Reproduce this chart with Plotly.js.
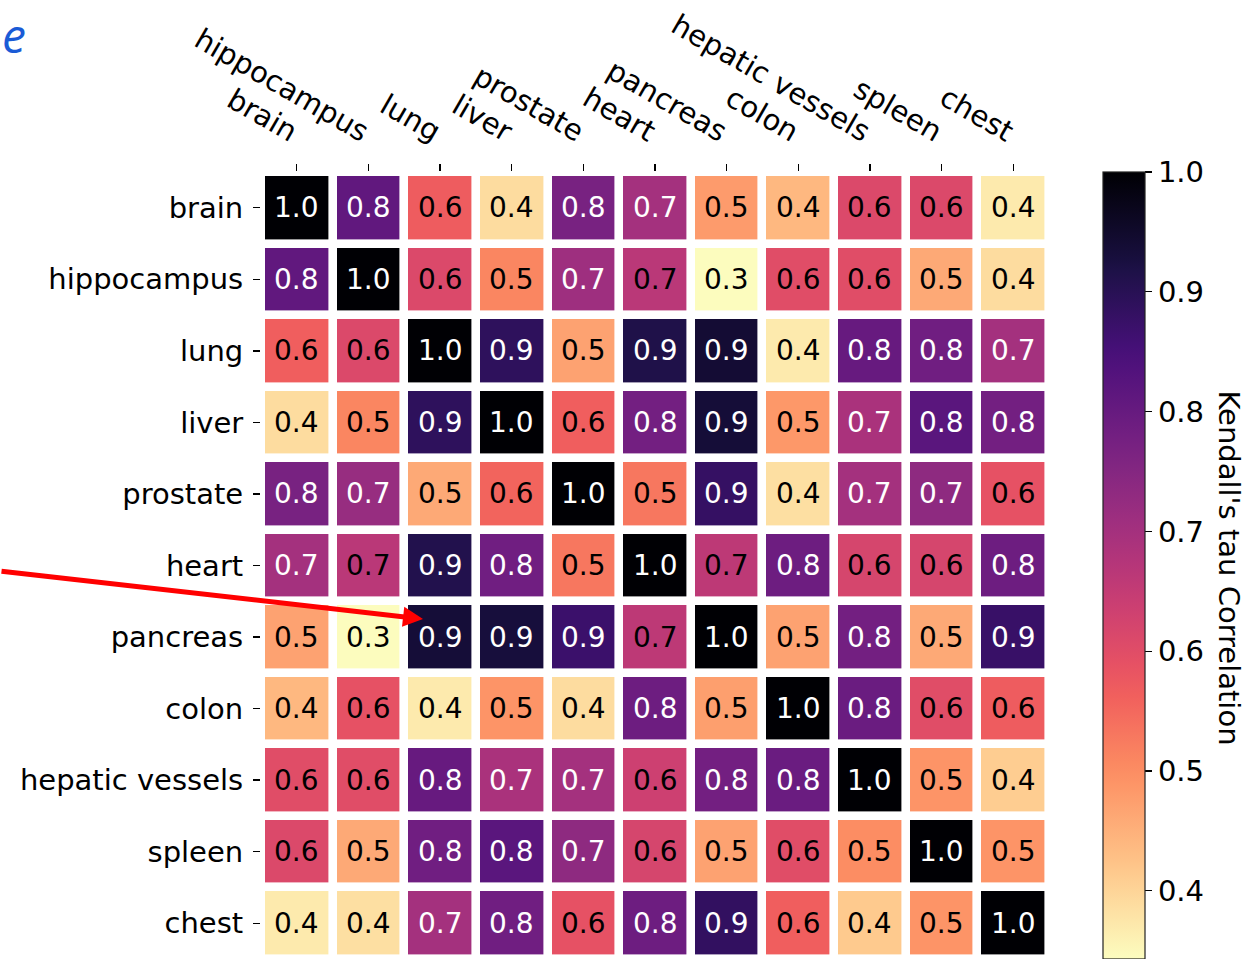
<!DOCTYPE html>
<html>
<head>
<meta charset="utf-8">
<script src="https://cdn.plot.ly/plotly-3.0.1.min.js"></script>
<style>
  html, body { margin: 0; padding: 0; background: #fff; }
  #chart { width: 1251px; height: 959px; }
</style>
</head>
<body>
<div id="chart"></div>
<script>
// Tissue categories (rows and columns of the correlation matrix)
const tissues = ['brain', 'hippocampus', 'lung', 'liver', 'prostate', 'heart',
                 'pancreas', 'colon', 'hepatic vessels', 'spleen', 'chest'];

// Kendall's tau between tissues, one array per row
const tau_brain       = [1.00, 0.81, 0.57, 0.39, 0.77, 0.70, 0.48, 0.44, 0.61, 0.61, 0.37];
const tau_hippocampus = [0.81, 1.00, 0.61, 0.51, 0.71, 0.665, 0.345, 0.60, 0.60, 0.46, 0.39];
const tau_lung        = [0.565, 0.61, 1.00, 0.89, 0.47, 0.915, 0.94, 0.37, 0.80, 0.785, 0.70];
const tau_liver       = [0.39, 0.51, 0.89, 1.00, 0.565, 0.78, 0.935, 0.485, 0.69, 0.82, 0.78];
const tau_prostate    = [0.77, 0.72, 0.46, 0.557, 1.00, 0.53, 0.88, 0.385, 0.70, 0.735, 0.59];
const tau_heart       = [0.70, 0.665, 0.91, 0.785, 0.53, 1.00, 0.66, 0.79, 0.62, 0.62, 0.79];
const tau_pancreas    = [0.47, 0.345, 0.935, 0.93, 0.87, 0.66, 1.00, 0.47, 0.78, 0.46, 0.875];
const tau_colon       = [0.44, 0.59, 0.37, 0.49, 0.39, 0.79, 0.475, 1.00, 0.795, 0.60, 0.57];
const tau_hepatic     = [0.60, 0.60, 0.80, 0.69, 0.70, 0.635, 0.78, 0.795, 1.00, 0.49, 0.41];
const tau_spleen      = [0.61, 0.46, 0.785, 0.82, 0.735, 0.62, 0.47, 0.60, 0.50, 1.00, 0.49];
const tau_chest       = [0.37, 0.385, 0.70, 0.785, 0.59, 0.79, 0.885, 0.565, 0.415, 0.49, 1.00];

const cbTicks = [0.4, 0.5, 0.6, 0.7, 0.8, 0.9, 1.0];
const zLow = 0.343, zHigh = 1.0;

const tauMatrix = [tau_brain, tau_hippocampus, tau_lung, tau_liver, tau_prostate, tau_heart,
                   tau_pancreas, tau_colon, tau_hepatic, tau_spleen, tau_chest];

// magma colormap samples (t = 0 dark .. 1 light), used reversed
const magma = [
  [0.0, '#000004'], [0.1111, '#180f3e'], [0.125, '#1d1147'], [0.2222, '#451077'],
  [0.25, '#51127c'], [0.3333, '#721f81'], [0.375, '#822681'], [0.4444, '#9f2f7f'],
  [0.5, '#b63679'], [0.5556, '#cd4071'], [0.625, '#e65164'], [0.6667, '#f1605d'],
  [0.75, '#fb8861'], [0.7778, '#fd9567'], [0.875, '#fec287'], [0.8889, '#fec98d'],
  [1.0, '#fcfdbf']
];
const magmaR = magma.map(([t, c]) => [+(1 - t).toFixed(4), c]).reverse();

const FONT = '"DejaVu Sans", Verdana, sans-serif';

const heat = {
  type: 'heatmap',
  x: tissues,
  y: tissues,
  z: tauMatrix,
  zmin: zLow,
  zmax: zHigh,
  colorscale: magmaR,
  xgap: 8.6,
  ygap: 8.6,
  hoverinfo: 'skip',
  colorbar: {
    x: (1103 - 261) / 788,
    xanchor: 'left',
    xpad: 0,
    y: 0.5,
    yanchor: 'middle',
    len: 1,
    lenmode: 'fraction',
    ypad: 0,
    thickness: 42,
    thicknessmode: 'pixels',
    outlinewidth: 1.2,
    outlinecolor: '#222',
    ticks: 'outside',
    ticklen: 7,
    tickwidth: 1.3,
    tickcolor: '#000',
    ticklabelstandoff: 4,
    tickvals: cbTicks,
    ticktext: cbTicks.map(v => v.toFixed(1)),
    tickfont: { family: FONT, size: 29, color: '#000' }
  }
};

// Cell labels: white on the darker half of the scale, black otherwise
const threshold = zLow + (zHigh - zLow) / 2;
const annotations = [];
tauMatrix.forEach((row, i) => {
  row.forEach((v, j) => {
    annotations.push({
      x: tissues[j], y: tissues[i], xref: 'x', yref: 'y',
      text: v.toFixed(1), showarrow: false,
      font: { family: FONT, size: 28, color: v > threshold ? '#ffffff' : '#000000' }
    });
  });
});

// Colorbar label
annotations.push({
  xref: 'paper', yref: 'paper', x: (1229 - 261) / 788, y: 0.5 - 2 / 787,
  xanchor: 'center', yanchor: 'middle',
  text: "Kendall's tau Correlation", textangle: 90, showarrow: false,
  font: { family: FONT, size: 29, color: '#000' }
});

// Panel letter
annotations.push({
  xref: 'paper', yref: 'paper', x: (0 - 261) / 788, y: 1 + 172 / 787,
  xanchor: 'left', yanchor: 'top',
  text: '<i>e</i>', showarrow: false,
  font: { family: 'Open Sans, sans-serif', size: 48, color: '#1a5bd6' }
});

// Pointer arrow onto the pancreas / lung cell
annotations.push({
  xref: 'paper', yref: 'paper', x: (423 - 261) / 788, y: 1 - (619 - 172) / 787,
  ax: -423, ay: -48, text: '', showarrow: true,
  arrowhead: 2, arrowsize: 0.8, arrowwidth: 5, arrowcolor: '#ff0000', standoff: 0
});

const layout = {
  width: 1251,
  height: 959,
  margin: { l: 261, r: 202, t: 172, b: 0, pad: 0 },
  paper_bgcolor: '#ffffff',
  plot_bgcolor: '#ffffff',
  font: { family: FONT, color: '#000' },
  xaxis: {
    type: 'category',
    side: 'top',
    tickangle: 30,
    ticks: 'outside',
    ticklen: 7,
    tickwidth: 1.3,
    tickcolor: '#000',
    ticklabelstandoff: 8,
    tickfont: { family: FONT, size: 29, color: '#000' },
    showgrid: false, zeroline: false, showline: false,
    fixedrange: true
  },
  yaxis: {
    type: 'category',
    autorange: 'reversed',
    ticks: 'outside',
    ticklen: 7,
    tickwidth: 1.3,
    tickcolor: '#000',
    ticklabelstandoff: 4,
    tickfont: { family: FONT, size: 29, color: '#000' },
    showgrid: false, zeroline: false, showline: false,
    fixedrange: true
  },
  annotations: annotations
};

Plotly.newPlot('chart', [heat], layout, { displayModeBar: false, staticPlot: true });
</script>
</body>
</html>
